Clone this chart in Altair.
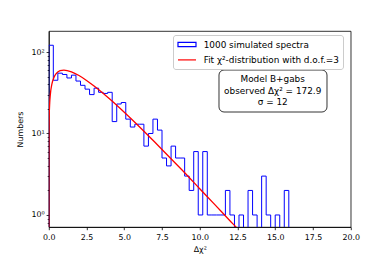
import altair as alt
import pandas as pd

# ---- data ----
bin_width = 0.3
counts = [121, 45, 55, 53, 48, 52, 44, 39, 35, 30,
          36, 32, 31, 32, 14, 23, 24, 15, 12, 13,
          13, 7, 10, 15, 11, 5, 4, 7, 5, 5,
          3, 2, 6, 1, 6, 1, 1, 1, 1, 2,
          1, 0, 1, 0, 2, 1, 0, 3, 1, 0,
          1, 0, 2]
fit_x = [0.0, 0.0005, 0.003, 0.01, 0.03, 0.06, 0.1, 0.2, 0.35, 0.5, 0.75, 1.0,
         1.5, 2.0, 2.5, 3.0, 4.0, 5.0, 6.0, 7.0, 8.0, 9.0, 10.0, 11.0, 12.0, 12.5, 13.0]
fit_y = [0.3, 2.2, 5.4, 9.9, 16.9, 23.5, 29.8, 40.0, 49.1, 54.5, 58.9, 60.0,
         57.2, 51.5, 44.8, 38.2, 26.8, 18.2, 12.1, 7.9, 5.1, 3.3, 2.1, 1.34, 0.85, 0.68, 0.53]
hist_label = "1000 simulated spectra"
fit_label = "Fit χ²-distribution with d.o.f.=3"
x_ticks = [0, 2.5, 5, 7.5, 10, 12.5, 15, 17.5, 20]
y_ticks = [0.8, 0.9, 1, 2, 3, 4, 5, 6, 7, 8, 9, 10, 20, 30, 40, 50, 60, 70, 80, 90, 100]
box_lines = ["Model B+gabs", "observed Δχ² = 172.9", "σ = 12"]

FONT = "DejaVu Sans"
floor = 0.01
n = len(counts)
edges = [round(i * bin_width, 2) for i in range(n + 1)]
step_x = [0.0] + edges[:n] + [edges[n], edges[n]]
step_c = [0] + counts + [counts[-1], 0]
hist = pd.DataFrame({
    "x": step_x,
    "count": step_c,
    "plot_y": [max(c, floor) for c in step_c],
    "i": list(range(len(step_x))),
    "series": hist_label,
})
fit = pd.DataFrame({"x": fit_x, "y": fit_y, "series": fit_label})

xs = alt.Scale(domain=[0, 20], nice=False, zero=False)
ys = alt.Scale(type="log", domain=[0.712, 181], nice=False)
cscale = alt.Scale(domain=[hist_label, fit_label], range=["#0000ff", "#ff0000"])

x_axis = alt.Axis(values=x_ticks, labelExpr="format(datum.value, '.1f')",
                  labelOverlap=False, labelFlush=False,
                  tickSize=2.7, labelPadding=3.5, titlePadding=4.5, grid=False)
major = "abs(log(datum.value)/LN10 - round(log(datum.value)/LN10)) < 0.000001"
y_axis = alt.Axis(values=y_ticks,
                  labelExpr="datum.value == 1 ? '10⁰' : datum.value == 10 ? '10¹' : datum.value == 100 ? '10²' : ''",
                  labelOverlap=False, labelFlush=False,
                  tickSize={"condition": {"test": major, "value": 2.7}, "value": 1.6},
                  labelPadding=2, titlePadding=6, grid=False)

sym_expr = ("datum.value == '" + hist_label + "' ? 'M-0.9,-0.43H2.7V0.43H-0.9Z' : 'M-0.9,0H2.7'")
legend = alt.Legend(title=None, orient="none", legendX=124.2, legendY=4,
                    padding=3.5, rowPadding=4.4, symbolSize=100,
                    symbolType={"expr": sym_expr}, symbolStrokeWidth=1.2,
                    labelOffset=15.2, labelFont=FONT, labelFontSize=8.9,
                    labelColor="black", labelLimit=400,
                    strokeColor="#cccccc", fillColor="white", cornerRadius=2.5)

hist_layer = alt.Chart(hist).mark_line(interpolate="step-after", strokeWidth=1, clip=True).encode(
    x=alt.X("x:Q", scale=xs, axis=x_axis, title="Δχ²"),
    y=alt.Y("plot_y:Q", scale=ys, axis=y_axis, title="Numbers"),
    color=alt.Color("series:N", scale=cscale, legend=legend),
    order=alt.Order("i:Q"),
)

fit_layer = alt.Chart(fit).mark_line(interpolate="monotone", strokeWidth=1.3, clip=True).encode(
    x=alt.X("x:Q", scale=xs, axis=x_axis, title="Δχ²"),
    y=alt.Y("y:Q", scale=ys, axis=y_axis, title="Numbers"),
    color=alt.Color("series:N", scale=cscale, legend=legend),
)

box_df = pd.DataFrame({"k": [0]})
box = alt.Chart(box_df).mark_rect(fill="white", stroke="black", strokeWidth=0.8, cornerRadius=5).encode(
    x=alt.value(170.2), x2=alt.value(278.2), y=alt.value(39), y2=alt.value(81)
)
box_text = alt.Chart(box_df).mark_text(align="center", baseline="middle", lineHeight=11.3,
                                       font=FONT, fontSize=8.9, color="black").encode(
    x=alt.value(223.9), y=alt.value(48.3), text=alt.value(box_lines)
)

chart = alt.layer(hist_layer, fit_layer, box, box_text).properties(
    width=301.9, height=196,
    autosize=alt.AutoSizeParams(type="none"),
    padding={"left": 40.8, "top": 23, "right": 30, "bottom": 31},
).configure_axis(
    labelFont=FONT, titleFont=FONT, labelFontSize=7.9, titleFontSize=7.9,
    titleFontWeight="normal", labelColor="black", titleColor="black",
    domainColor="black", tickColor="black", domainWidth=0.8, tickWidth=0.8,
    labelOverlap=False,
).configure_view(stroke="black", strokeWidth=0.8)

chart.save("out.html", embed_options={"renderer": "svg", "actions": False})
